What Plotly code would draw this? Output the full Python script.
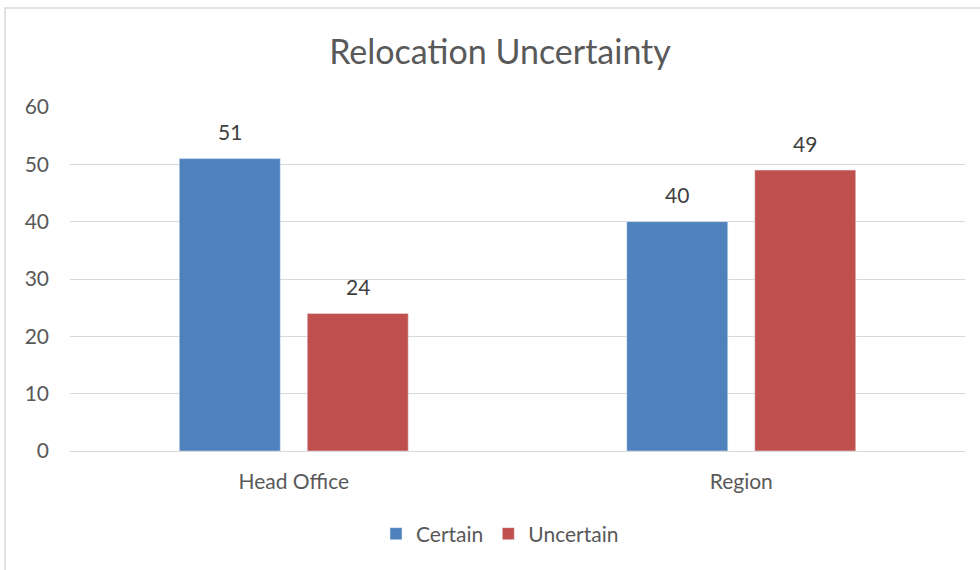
import plotly.graph_objects as go

categories = ["Head Office", "Region"]
certain = [51, 40]
uncertain = [24, 49]
series_names = ["Certain", "Uncertain"]
y_ticks = [0, 10, 20, 30, 40, 50, 60]

W, H = 980, 570
L, R, T, B = 70, 15, 107, 119
pw = W - L - R
ph = H - T - B

FONT = "Lato, Open Sans, sans-serif"
GRAY = "#595959"

fig = go.Figure()
fig.add_trace(go.Bar(x=categories, y=certain, name=series_names[0],
                     marker_color="#4f81bd"))
fig.add_trace(go.Bar(x=categories, y=uncertain, name=series_names[1],
                     marker_color="#c0504d"))

# data labels above bars
bar_px = 101
gap_px = 27
shift = (bar_px + gap_px) / 2
for vals, sx in ((certain, -shift), (uncertain, shift)):
    for c, v in zip(categories, vals):
        fig.add_annotation(x=c, y=v, text=str(v), showarrow=False, xshift=sx,
                           yshift=27, yanchor="middle",
                           font=dict(family=FONT, size=21, color="#404040"))

fig.add_shape(type="rect", xref="paper", yref="paper",
              x0=(5 - L) / pw, x1=(W + 20 - L) / pw,
              y0=(H - B - (H + 20)) / ph, y1=(H - B - 8) / ph,
              line=dict(color="#d9d9d9", width=1.5), fillcolor="rgba(0,0,0,0)", layer="below")

fig.update_layout(
    width=W, height=H,
    margin=dict(l=L, r=R, t=T, b=B, autoexpand=False),
    paper_bgcolor="white", plot_bgcolor="white",
    font=dict(family=FONT, color=GRAY, size=21),
    title=dict(text="Relocation Uncertainty", xref="container", x=500 / W, xanchor="center",
               yref="container", y=1 - 52 / H, yanchor="middle",
               font=dict(size=34, color=GRAY)),
    barmode="group", bargap=0.428, bargroupgap=0.211,
    showlegend=True,
    legend=dict(orientation="h", xref="container", x=500 / W, xanchor="center",
                yref="container", y=1 - 534 / H, yanchor="middle",
                font=dict(size=21, color=GRAY), traceorder="normal"),
    xaxis=dict(showline=False, ticks="", automargin=False,
               tickfont=dict(size=21, color=GRAY), ticklabelstandoff=16),
    yaxis=dict(range=[0, 60], tickvals=y_ticks, showgrid=True, gridcolor="#d9d9d9",
               gridwidth=1, zeroline=True, zerolinecolor="#d9d9d9", zerolinewidth=1,
               ticks="", automargin=False,
               tickfont=dict(size=21, color=GRAY), ticklabelstandoff=20),
)

fig.write_html("out.html", config={"displayModeBar": False},
               post_script="document.body.style.margin='0';")
